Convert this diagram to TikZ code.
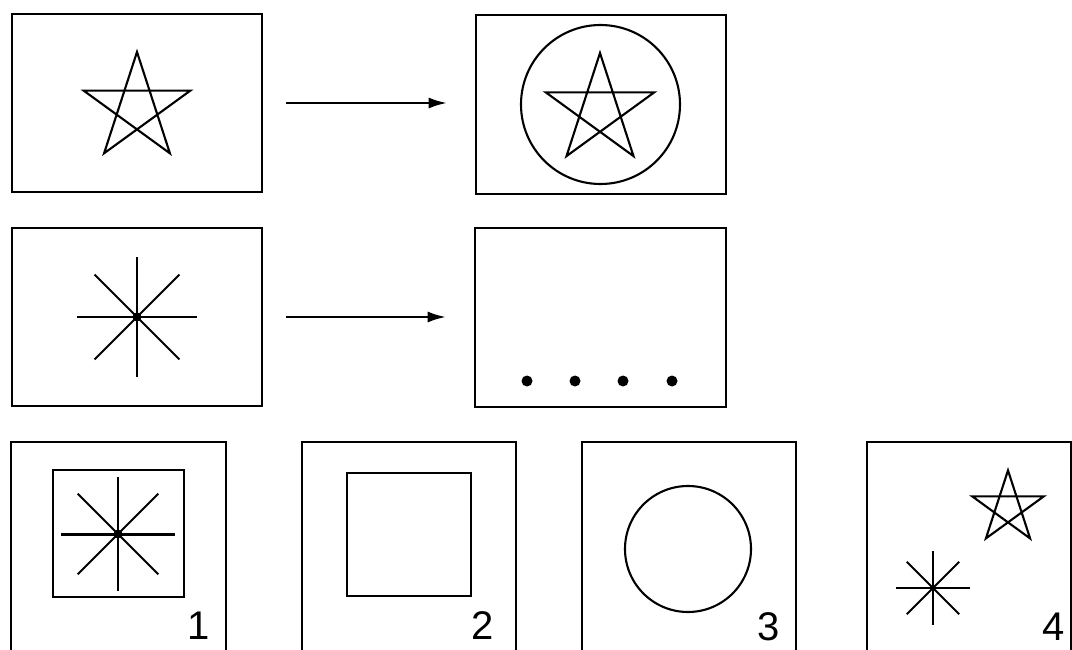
\documentclass[tikz,border=0pt]{standalone}
\usepackage{fontspec}
\setsansfont{Liberation Sans}
\usetikzlibrary{arrows.meta}
\tikzstyle{panel}=[draw, line width=2.6pt, inner sep=0pt]
\tikzstyle{motif}=[line width=2.1pt]
\tikzstyle{dot}=[circle, fill=black, inner sep=0pt, minimum size=11pt]
\tikzstyle{flow}=[line width=2.1pt, -{Latex[length=18pt, width=11pt]}]
\tikzstyle{tag}=[font=\sffamily\fontsize{40}{40}\selectfont, anchor=base, inner sep=0pt]

% five-pointed star: centre, radius
\newcommand{\pentastar}[2]{%
	\draw[motif, line join=miter] (#1) +(-90:#2) -- +(54:#2) -- +(198:#2) -- +(342:#2) -- +(126:#2) -- cycle;}
% eight spokes: centre, length
\newcommand{\spokes}[2]{%
	\foreach \a in {0, 45, ..., 315}{ \draw[motif] (#1) -- +(\a:#2); }}

\begin{document}
\begin{tikzpicture}[x=1pt, y=-1pt]
				\useasboundingbox (0,0) rectangle (1072,650);

				% Example rows
				\node[panel, minimum width=250pt, minimum height=178pt] (src1) at (137,103) {};
				\node[panel, minimum width=250pt, minimum height=179pt] (dst1) at (601,104.5) {};
				\node[panel, minimum width=250pt, minimum height=178pt] (src2) at (137,317) {};
				\node[panel, minimum width=251pt, minimum height=179pt] (dst2) at (600.5,317.5) {};

				\draw[flow] ([xshift=23pt]src1.east) -- ([xshift=-28pt]dst1.west |- src1.east);
				\draw[flow] ([xshift=23pt]src2.east) -- ([xshift=-28pt]dst2.west |- src2.east);

				\pentastar{137,108}{56}
				\pentastar{600,110}{57}
				\node[draw, circle, motif, minimum size=159pt, inner sep=0pt] (ring) at (600.5,104.5) {};

				\spokes{137,317}{60}
				\node[dot, minimum size=9pt] (hub) at (137,317) {};
				\foreach \x/\n in {527/1, 575/2, 623/3, 672/4}{ \node[dot] (pt\n) at (\x,381) {}; }

				% Answer choices
				\node[panel, line width=2.2pt, minimum width=215pt, minimum height=218pt] (opt1) at (118.5,551) {};
				\node[panel, line width=2.2pt, minimum width=214pt, minimum height=218pt] (opt2) at (409,551) {};
				\node[panel, line width=2.2pt, minimum width=214pt, minimum height=218pt] (opt3) at (689,551) {};
				\node[panel, line width=2.2pt, minimum width=204pt, minimum height=218pt] (opt4) at (969,551) {};

				\node[panel, line width=2.6pt, minimum width=131pt, minimum height=127pt] (sq1) at (118.5,533.5) {};
				\spokes{118,534}{57}
				\draw[motif, line width=3pt] (61,534) -- (175,534);
				\node[dot, minimum size=9pt] (hub1) at (118,534) {};

				\node[panel, line width=2pt, minimum width=124pt, minimum height=123pt] (sq2) at (409,534.5) {};

				\node[draw, circle, motif, minimum size=126pt, inner sep=0pt] (disc3) at (688,549) {};

				\pentastar{1008,508}{37.6}
				\spokes{933,588}{37}
				\node[dot, minimum size=4pt] (hub4) at (933,588) {};

				\node[tag] (n1) at (199,639) {1};
				\node[tag] (n2) at (483,639) {2};
				\node[tag] (n3) at (769,640) {3};
				\node[tag] (n4) at (1054,640) {4};
			\end{tikzpicture}
\end{document}
